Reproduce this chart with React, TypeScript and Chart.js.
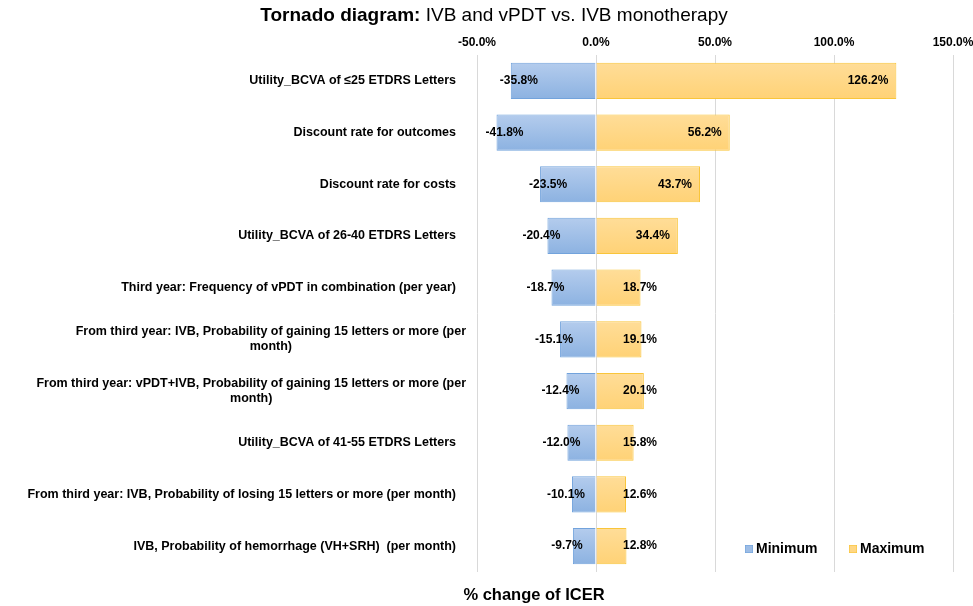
import React, { useEffect, useRef } from "react";
import { Chart, registerables } from "chart.js";

Chart.register(...registerables);

const categories: (string | string[])[] = [
  "Utility_BCVA of ≤25 ETDRS Letters",
  "Discount rate for outcomes",
  "Discount rate for costs",
  "Utility_BCVA of 26-40 ETDRS Letters",
  "Third year: Frequency of vPDT in combination (per year)",
  ["From third year: IVB, Probability of gaining 15 letters or more (per", "month)"],
  ["From third year: vPDT+IVB, Probability of gaining 15 letters or more (per", "month)"],
  "Utility_BCVA of 41-55 ETDRS Letters",
  "From third year: IVB, Probability of losing 15 letters or more (per month)",
  "IVB, Probability of hemorrhage (VH+SRH)  (per month)",
];

const minimumValues = [-35.8, -41.8, -23.5, -20.4, -18.7, -15.1, -12.4, -12.0, -10.1, -9.7];
const maximumValues = [126.2, 56.2, 43.7, 34.4, 18.7, 19.1, 20.1, 15.8, 12.6, 12.8];

const xTickValues = [-50, 0, 50, 100, 150];

const seriesNames = ["Minimum", "Maximum"];
const titleBold = "Tornado diagram:";
const titleRest = " IVB and vPDT vs. IVB monotherapy";
const xAxisTitle = "% change of ICER";

const FONT = '"Liberation Sans", Arial, Helvetica, sans-serif';
const BAR_FRACTION = 0.7;

const BLUE_TOP = "#b4cced";
const BLUE_BOTTOM = "#8cb2e1";
const BLUE_BORDER = "#72a3dc";
const ORANGE_TOP = "#ffdd98";
const ORANGE_BOTTOM = "#ffd276";
const ORANGE_BORDER = "#f9c53a";

const fmtPct = (v: number) => `${v.toFixed(1)}%`;

const barGradient = (top: string, bottom: string) => (ctx: any) => {
  const chart = ctx.chart;
  const ys = chart.scales && chart.scales.y;
  if (!chart.chartArea || !ys || ctx.type !== "data") return bottom;
  const yc = ys.getPixelForValue(ctx.dataIndex);
  const half = ((ys.height / chart.data.labels.length) * BAR_FRACTION) / 2;
  if (!isFinite(yc) || !isFinite(half)) return bottom;
  const g = chart.ctx.createLinearGradient(0, yc - half, 0, yc + half);
  g.addColorStop(0, top);
  g.addColorStop(1, bottom);
  return g;
};

const decorPlugin = {
  id: "decor",
  afterDraw(chart: any) {
    const ctx: CanvasRenderingContext2D = chart.ctx;
    const xs = chart.scales.x;
    const ys = chart.scales.y;
    const area = chart.chartArea;
    ctx.save();

    // Title (mixed bold / normal)
    ctx.textBaseline = "middle";
    ctx.fillStyle = "#000";
    ctx.font = `bold 19px ${FONT}`;
    const wb = ctx.measureText(titleBold).width;
    ctx.font = `19px ${FONT}`;
    const wr = ctx.measureText(titleRest).width;
    const tx = 494 - (wb + wr) / 2;
    ctx.textAlign = "left";
    ctx.font = `bold 19px ${FONT}`;
    ctx.fillText(titleBold, tx, 16);
    ctx.font = `19px ${FONT}`;
    ctx.fillText(titleRest, tx + wb, 16);

    // Category labels
    ctx.font = `bold 12.5px ${FONT}`;
    ctx.fillStyle = "#000";
    categories.forEach((lab, i) => {
      const yc = ys.getPixelForValue(i);
      if (Array.isArray(lab)) {
        const maxw = Math.max(...lab.map((l) => ctx.measureText(l).width));
        const cx = area.left - 11 - maxw / 2;
        const lh = 15;
        const y0 = yc - ((lab.length - 1) * lh) / 2;
        ctx.textAlign = "center";
        lab.forEach((l, k) => ctx.fillText(l, cx, y0 + k * lh));
      } else {
        ctx.textAlign = "right";
        ctx.fillText(lab, area.left - 21, yc);
      }
    });

    // Data labels
    ctx.font = `bold 12px ${FONT}`;
    ctx.textAlign = "center";
    const zero = xs.getPixelForValue(0);
    minimumValues.forEach((v, i) => {
      const yc = ys.getPixelForValue(i);
      const s = xs.getPixelForValue(v);
      const bw = zero - s;
      const cx = bw > 50 ? s + 8 : s - 6;
      ctx.fillText(fmtPct(v), cx, yc);
    });
    maximumValues.forEach((v, i) => {
      const yc = ys.getPixelForValue(i);
      const e = xs.getPixelForValue(v);
      const t = fmtPct(v);
      const w = ctx.measureText(t).width;
      const cx = Math.max(e - 8 - w / 2, zero + 44);
      ctx.fillText(t, cx, yc);
    });

    // Legend
    ctx.font = `bold 14px ${FONT}`;
    ctx.textAlign = "left";
    const ly = area.bottom - 23;
    const items = [
      { name: seriesNames[0], fill: "#9dbde6", border: BLUE_BORDER, x: area.right - 208 },
      { name: seriesNames[1], fill: "#ffd784", border: ORANGE_BORDER, x: area.right - 104 },
    ];
    items.forEach((it) => {
      ctx.fillStyle = it.fill;
      ctx.fillRect(it.x, ly - 4, 8, 8);
      ctx.strokeStyle = it.border;
      ctx.lineWidth = 0.6;
      ctx.strokeRect(it.x + 0.3, ly - 3.7, 7.4, 7.4);
      ctx.fillStyle = "#000";
      ctx.fillText(it.name, it.x + 11, ly);
    });

    // X axis title
    ctx.font = `bold 16.5px ${FONT}`;
    ctx.textAlign = "center";
    ctx.fillText(xAxisTitle, 534, 595);

    ctx.restore();
  },
};

export default function App() {
  const ref = useRef<HTMLCanvasElement | null>(null);

  useEffect(() => {
    if (!ref.current) return;
    const chart = new Chart(ref.current, {
      type: "bar",
      data: {
        labels: categories as any,
        datasets: [
          {
            label: seriesNames[0],
            data: minimumValues,
            backgroundColor: barGradient(BLUE_TOP, BLUE_BOTTOM) as any,
            borderColor: BLUE_BORDER,
            borderWidth: 1,
            barPercentage: BAR_FRACTION,
            categoryPercentage: 1,
          },
          {
            label: seriesNames[1],
            data: maximumValues,
            backgroundColor: barGradient(ORANGE_TOP, ORANGE_BOTTOM) as any,
            borderColor: ORANGE_BORDER,
            borderWidth: 1,
            barPercentage: BAR_FRACTION,
            categoryPercentage: 1,
          },
        ],
      },
      options: {
        indexAxis: "y",
        responsive: false,
        animation: false,
        devicePixelRatio: 1,
        layout: { padding: { top: 0, right: 20, bottom: 34, left: 0 } },
        plugins: {
          legend: { display: false },
          title: { display: false },
          tooltip: { enabled: false },
        },
        scales: {
          x: {
            position: "top",
            stacked: true,
            min: -50,
            max: 150,
            afterBuildTicks: (s: any) => {
              s.ticks = xTickValues.map((v) => ({ value: v }));
            },
            afterFit: (s: any) => {
              s.height = 55;
              s.paddingLeft = 0;
              s.paddingRight = 0;
            },
            ticks: {
              color: "#000",
              font: { family: FONT, size: 12, weight: "bold" },
              padding: 5,
              maxRotation: 0,
              callback: (v: any) => fmtPct(Number(v)),
            },
            grid: { color: "#d9d9d9", drawTicks: false, lineWidth: 1 },
            border: { display: false },
          },
          y: {
            stacked: true,
            ticks: { display: false },
            grid: { display: false },
            border: { display: false },
            afterFit: (s: any) => {
              s.width = 477;
              s.paddingTop = 0;
              s.paddingBottom = 0;
            },
          },
        },
      },
      plugins: [decorPlugin],
    });
    return () => chart.destroy();
  }, []);

  return (
    <div style={{ position: "fixed", left: 0, top: 0, width: 973, height: 606, background: "#fff" }}>
      <canvas ref={ref} width={973} height={606} style={{ width: 973, height: 606 }} />
    </div>
  );
}
